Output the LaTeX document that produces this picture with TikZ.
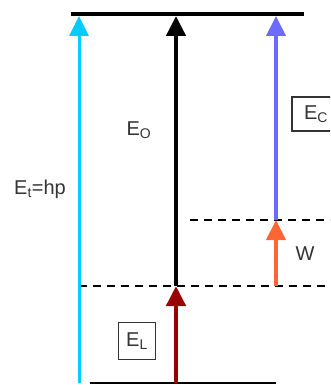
\documentclass[tikz,border=0pt]{standalone}
\usepackage{fontspec}
\setmainfont{Liberation Sans}
\usetikzlibrary{arrows.meta}

\definecolor{photon}{RGB}{0,204,255}
\definecolor{kinetic}{RGB}{107,107,255}
\definecolor{work}{RGB}{255,102,51}
\definecolor{bound}{RGB}{153,0,0}

\begin{document}
\begin{tikzpicture}[x=1pt,y=-1pt,
    up/.style={line width=#1, -{Triangle[length=20pt,width=19pt]}},
    level/.style={line width=2.5pt, dash pattern=on 8pt off 6pt},
    lab/.style={font=\fontsize{20}{24}\selectfont, text=black!80, inner sep=1pt},
    lbox/.style={lab, draw=black!80, line width=1.8pt, inner sep=0pt}]
  \clip (0,0) rectangle (330,385);
  % poziomy energii
  \coordinate (vacL) at (71,14);
  \coordinate (vacR) at (304,14);
  \coordinate (gndL) at (90,383);
  \coordinate (gndR) at (276,383);
  \coordinate (midL) at (79,286);
  \coordinate (midR) at (330,286);
  \coordinate (hiL) at (190,220);
  \coordinate (hiR) at (330,220);
  \draw[line width=4pt] (vacL) -- (vacR);
  \draw[line width=1.5pt] (gndL) -- (gndR);
  \draw[level] (midL) -- (midR);
  \draw[level] (hiL) -- (hiR);

  % strzalki
  \coordinate (a1) at (79,383);   \coordinate (a1t) at (79,16);
  \coordinate (a2) at (176,383);  \coordinate (a2m) at (176,286);
  \coordinate (a2t) at (176,16);
  \coordinate (a3) at (276,286);  \coordinate (a3m) at (276,220);
  \coordinate (a3t) at (276,16);
  \draw[up=3pt, photon] (a1) -- (a1t);
  \draw[up=4.5pt, bound] (a2) -- (a2m);
  \draw[up=4.5pt, black] (a2m) -- (a2t);
  \draw[up=4pt, work] (a3) -- (a3m);
  \draw[up=4pt, kinetic] (a3m) -- (a3t);

  % opisy
  \node[lab] (eo) at (139,130) {E\textsubscript{O}};
  \node[lab] (et) at (40,189) {E\textsubscript{t}=hp};
  \node[lab] (w) at (305,254) {W};
  \node[lbox, minimum width=37pt, minimum height=37pt] (el) at (137,341) {E\textsubscript{L}};
  \node[lbox, minimum width=60pt, minimum height=34pt, text width=36pt] (ec) at (322,114) {E\textsubscript{C}};
\end{tikzpicture}
\end{document}
